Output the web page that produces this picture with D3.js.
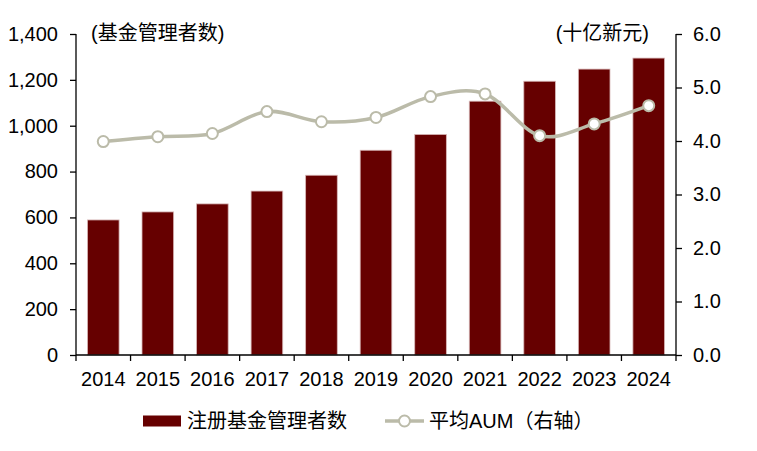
<!DOCTYPE html>
<html>
<head>
<meta charset="utf-8">
<script src="https://cdn.jsdelivr.net/npm/d3@7"></script>
<style>
  html, body { margin: 0; padding: 0; background: #fff; }
  svg text { font-family: "Liberation Sans", Arial, "Noto Sans CJK SC", sans-serif; fill: #000; }
  .cjk { font-family: "Liberation Sans", "Noto Sans CJK SC", sans-serif; }
</style>
</head>
<body>
<div id="chart"></div>
<script>
// Registered fund managers (bars, left axis) and average AUM (line, right axis)
const years = ["2014", "2015", "2016", "2017", "2018", "2019", "2020", "2021", "2022", "2023", "2024"];
const managerCounts = [589, 624, 659, 715, 784, 893, 962, 1107, 1194, 1247, 1295];
const avgAum = [3.99, 4.08, 4.14, 4.55, 4.36, 4.44, 4.83, 4.88, 4.10, 4.32, 4.66];
const leftTicks = [0, 200, 400, 600, 800, 1000, 1200, 1400];
const rightTicks = [0, 1, 2, 3, 4, 5, 6];

const BAR_COLOR = "#660000";
const LINE_COLOR = "#bbbba9";
const FS = 20;

const W = 757, H = 451;
const plot = {left: 76, right: 676, top: 34, bottom: 355};

const svg = d3.select("#chart").append("svg")
    .attr("width", W)
    .attr("height", H);

const x = d3.scaleBand()
    .domain(years)
    .range([plot.left, plot.right])
    .paddingInner(0.42)
    .paddingOuter(0.21);

const yLeft = d3.scaleLinear().domain([0, 1400]).range([plot.bottom, plot.top]);
const yRight = d3.scaleLinear().domain([0, 6]).range([plot.bottom, plot.top]);

// Bars
svg.append("g").selectAll("rect")
    .data(years)
    .enter()
    .append("rect")
    .attr("x", d => x(d))
    .attr("width", x.bandwidth())
    .attr("y", (d, i) => yLeft(managerCounts[i]))
    .attr("height", (d, i) => plot.bottom - yLeft(managerCounts[i]))
    .attr("fill", BAR_COLOR)
    .attr("stroke", "#d8b8b8")
    .attr("stroke-width", 0.8);

// Left axis
const axL = svg.append("g")
    .attr("transform", `translate(${plot.left},0)`)
    .call(d3.axisLeft(yLeft).tickValues(leftTicks).tickSize(6).tickPadding(12)
        .tickFormat(d3.format(",")));
// Right axis
const axR = svg.append("g")
    .attr("transform", `translate(${plot.right},0)`)
    .call(d3.axisRight(yRight).tickValues(rightTicks).tickSize(6).tickPadding(11)
        .tickFormat(d3.format(".1f")));
[axL, axR].forEach(ax => {
    ax.select(".domain").attr("stroke", "#000").attr("stroke-width", 1.3)
        .attr("d", `M0,${plot.bottom}V${plot.top}`);
    ax.selectAll(".tick line").attr("stroke", "#000").attr("stroke-width", 1.3);
    ax.selectAll("text").attr("font-size", FS).attr("fill", "#000");
});

// Bottom axis: ticks at band boundaries
const bounds = d3.range(years.length + 1).map(i => plot.left + i * (plot.right - plot.left) / years.length);
const axB = svg.append("g");
axB.append("line")
    .attr("x1", plot.left).attr("x2", plot.right)
    .attr("y1", plot.bottom).attr("y2", plot.bottom)
    .attr("stroke", "#000").attr("stroke-width", 1.3);
axB.selectAll(".bt").data(bounds).enter().append("line")
    .attr("x1", d => d).attr("x2", d => d)
    .attr("y1", plot.bottom).attr("y2", plot.bottom + 6)
    .attr("stroke", "#000").attr("stroke-width", 1.3);
axB.selectAll(".bl").data(years).enter().append("text")
    .attr("x", d => x(d) + x.bandwidth() / 2)
    .attr("y", plot.bottom + 31)
    .attr("text-anchor", "middle")
    .attr("font-size", FS)
    .text(d => d);

// Average AUM line (smoothed like the source chart)
const line = d3.line()
    .x((d, i) => x(years[i]) + x.bandwidth() / 2)
    .y(d => yRight(d))
    .curve(d3.curveCatmullRom.alpha(0));

svg.append("path")
    .datum(avgAum)
    .attr("d", line)
    .attr("fill", "none")
    .attr("stroke", LINE_COLOR)
    .attr("stroke-width", 3.5);

svg.append("g").selectAll("circle")
    .data(avgAum)
    .enter()
    .append("circle")
    .attr("cx", (d, i) => x(years[i]) + x.bandwidth() / 2)
    .attr("cy", d => yRight(d))
    .attr("r", 5.5)
    .attr("fill", "#fff")
    .attr("stroke", LINE_COLOR)
    .attr("stroke-width", 2);

// Axis titles
svg.append("text").attr("class", "cjk")
    .attr("x", 91).attr("y", 40)
    .attr("font-size", FS)
    .text("(基金管理者数)");
svg.append("text").attr("class", "cjk")
    .attr("x", 649).attr("y", 40)
    .attr("text-anchor", "end")
    .attr("font-size", FS)
    .text("(十亿新元)");

// Legend
const legend = svg.append("g").attr("transform", "translate(0,421)");
legend.append("rect")
    .attr("x", 143).attr("y", -5.5)
    .attr("width", 38).attr("height", 11)
    .attr("fill", BAR_COLOR);
legend.append("text").attr("class", "cjk")
    .attr("x", 187).attr("y", 7)
    .attr("font-size", FS)
    .text("注册基金管理者数");
legend.append("line")
    .attr("x1", 385).attr("x2", 424)
    .attr("y1", 0).attr("y2", 0)
    .attr("stroke", LINE_COLOR).attr("stroke-width", 3.5);
legend.append("circle")
    .attr("cx", 404.5).attr("cy", 0).attr("r", 5.5)
    .attr("fill", "#fff").attr("stroke", LINE_COLOR).attr("stroke-width", 2);
legend.append("text").attr("class", "cjk")
    .attr("x", 429).attr("y", 7)
    .attr("font-size", FS)
    .text("平均AUM（右轴）");
</script>
</body>
</html>
